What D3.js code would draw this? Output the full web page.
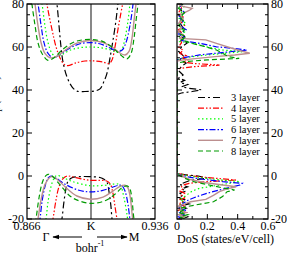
<!DOCTYPE html>
<html>
<head>
<meta charset="utf-8">
<script src="https://cdn.jsdelivr.net/npm/d3@7"></script>
<style>
  body { margin: 0; background: #fff; }
  text { font-family: "Liberation Serif", "DejaVu Serif", serif; fill: #000; }
</style>
</head>
<body>
<div id="chart"></div>
<script>
// layer names + styles for the legend
const layers = ["3 layer", "4 layer", "5 layer", "6 layer", "7 layer", "8 layer"];
const colors = ["#000000", "#ff0000", "#00ff00", "#0000ff", "#bc8f8f", "#009a00"];
const dashes = ["7,3,2,3", "6,2,1.5,2,1.5,2", "1.5,2.5", "6,2,1.5,2", null, "5,3"];

// band structure near K: [k (bohr^-1), E (meV)]  -- upper (conduction) bands
const upper3 = [[0.8818,84],[0.8824,80],[0.8835,70],[0.8846,60],[0.8857,53],[0.8879,46],[0.8906,41.5],[0.8933,39.5],[0.8977,39.3],[0.9032,39.6],[0.9059,40.5],[0.9081,44],[0.9098,48],[0.9114,55],[0.9130,63],[0.9146,72],[0.9157,80],[0.9163,84]];
const upper4 = [[0.8764,84],[0.8769,80],[0.8797,68],[0.8819,60],[0.8840,55],[0.8862,52],[0.8884,51.3],[0.8923,52.5],[0.8977,53.5],[0.9032,53.5],[0.9076,53],[0.9108,52.3],[0.9125,54],[0.9141,60],[0.9157,68],[0.9174,76],[0.9185,81],[0.9190,84]];
const upper5 = [[0.8731,84],[0.8742,80],[0.8758,70],[0.8775,62],[0.8797,57],[0.8819,55.5],[0.8851,56.5],[0.8895,58.5],[0.8950,59.7],[0.9005,60],[0.9059,59.7],[0.9103,59],[0.9136,58],[0.9157,57.5],[0.9179,59],[0.9196,64],[0.9212,72],[0.9223,80],[0.9229,84]];
const upper6 = [[0.8709,84],[0.8720,80],[0.8737,70],[0.8753,62],[0.8775,57],[0.8802,55],[0.8840,56.5],[0.8895,59.5],[0.8950,61.5],[0.9021,62],[0.9076,61],[0.9114,59.5],[0.9152,58],[0.9179,58.5],[0.9201,62],[0.9223,70],[0.9240,80],[0.9245,84]];
const upper7 = [[0.8698,84],[0.8704,80],[0.8720,70],[0.8737,62],[0.8758,57],[0.8786,55],[0.8819,55.5],[0.8868,58.5],[0.8933,61.8],[0.9005,63],[0.9076,62],[0.9125,60],[0.9163,57.5],[0.9196,56.3],[0.9218,58],[0.9234,64],[0.9245,72],[0.9256,80],[0.9262,84]];
const upper8 = [[0.8682,84],[0.8687,80],[0.8704,70],[0.8720,62],[0.8742,57],[0.8775,53.8],[0.8808,55],[0.8857,59],[0.8923,62.5],[0.9005,63.5],[0.9076,62.5],[0.9125,60],[0.9169,56.5],[0.9207,54.5],[0.9229,57],[0.9245,64],[0.9256,72],[0.9267,80],[0.9272,84]];

// lower (valence) bands
const lower3 = [[0.8846,-22],[0.8851,-20],[0.8862,-12],[0.8873,-6],[0.8884,-2.5],[0.8906,-0.8],[0.8950,-0.3],[0.9005,-0.3],[0.9059,-0.7],[0.9081,-1.5],[0.9098,-3],[0.9108,-7],[0.9119,-14],[0.9125,-20],[0.9130,-22]];
const lower4 = [[0.8797,-22],[0.8802,-20],[0.8819,-11],[0.8835,-5],[0.8857,-1.2],[0.8879,0],[0.8906,-0.3],[0.8950,-1.2],[0.9005,-2],[0.9059,-2],[0.9092,-2.2],[0.9114,-3.5],[0.9130,-8],[0.9141,-14],[0.9152,-20],[0.9157,-22]];
const lower5 = [[0.8758,-22],[0.8764,-20],[0.8775,-12],[0.8791,-5],[0.8808,-1],[0.8824,0.3],[0.8851,-0.5],[0.8906,-2.5],[0.9005,-4.5],[0.9087,-4.3],[0.9130,-3.8],[0.9157,-3.7],[0.9174,-5],[0.9190,-10],[0.9207,-18],[0.9212,-22]];
const lower6 = [[0.8726,-22],[0.8731,-20],[0.8742,-12],[0.8758,-5],[0.8775,-1],[0.8791,0],[0.8819,-1],[0.8868,-3.8],[0.8939,-6.5],[0.9005,-7.4],[0.9070,-6.8],[0.9125,-5.3],[0.9163,-4.3],[0.9179,-4.5],[0.9196,-7],[0.9212,-13],[0.9223,-20],[0.9229,-22]];
const lower7 = [[0.8715,-22],[0.8720,-20],[0.8737,-11],[0.8758,-4],[0.8780,-1],[0.8797,-0.3],[0.8824,-1.5],[0.8868,-5],[0.8933,-9.3],[0.9005,-10.8],[0.9076,-9.8],[0.9130,-7],[0.9169,-4.8],[0.9196,-4.3],[0.9212,-5.5],[0.9223,-9],[0.9234,-17],[0.9240,-22]];
const lower8 = [[0.8704,-22],[0.8709,-20],[0.8726,-10],[0.8742,-3.5],[0.8758,-0.3],[0.8775,0.8],[0.8797,0],[0.8840,-4],[0.8906,-10],[0.9005,-12.7],[0.9087,-11.5],[0.9141,-8.5],[0.9179,-5.5],[0.9207,-4.6],[0.9223,-6],[0.9234,-11],[0.9245,-20],[0.9251,-22]];

// density of states: [E (meV), DoS (states/eV/cell)]
const dos3 = [[-20,0.03],[-19,0.07],[-18,0.02],[-17,0.05],[-16,0.01],[-15,0.06],[-14,0.02],[-13,0.08],[-12,0.03],[-11,0.05],[-10,0.01],[-9,0.04],[-8,0.02],[-7,0.06],[-6,0.03],[-5,0.07],[-4,0.02],[-3,0.05],[-2,0.09],[-1,0.2],[0,0.14],[0.6,0.05],[1.2,0],[38,0],[38.6,0.03],[39.3,0.1],[40.1,0.16],[40.8,0.08],[41.5,0.03],[42.5,0.07],[43.5,0.02],[44.5,0.05],[45.5,0.01],[47,0.04],[49,0.01],[51,0.03],[52.5,0.06],[54,0.02],[56,0.04],[58,0.01],[60,0.03],[62,0.07],[63.5,0.02],[65,0.05],[67,0.01],[69,0.04],[71,0.02],[73,0.05],[75,0.01],[77,0.03],[79,0.02],[80,0.04]];
const dos4 = [[-20,0.01],[-19,0.04],[-18,0.02],[-17,0.06],[-16,0.01],[-15,0.03],[-14,0.05],[-13,0.01],[-12,0.04],[-11,0.02],[-10,0.06],[-9,0.03],[-8,0.05],[-7,0.02],[-6,0.04],[-5,0.03],[-4,0.05],[-3.4,0.08],[-2.6,0.2],[-1.9,0.39],[-1.1,0.26],[-0.3,0.14],[0.5,0.05],[1.2,0],[49,0],[50,0.02],[50.8,0.1],[51.6,0.28],[52.3,0.12],[53,0.04],[54,0.07],[55,0.03],[56,0.06],[57,0.02],[58.5,0.04],[60,0.01],[62,0.03],[64,0.02],[66,0.04],[68,0.01],[70,0.05],[72,0.02],[74,0.04],[76,0.01],[78,0.03],[80,0.02]];
const dos5 = [[-20,0.02],[-19,0.05],[-18,0.01],[-17,0.04],[-16,0.02],[-15,0.06],[-14,0.01],[-13,0.03],[-12,0.05],[-11,0.02],[-10,0.04],[-8.8,0.065],[-7,0.1],[-5.7,0.15],[-4.2,0.28],[-2.6,0.415],[-1.9,0.3],[-1,0.18],[0,0.08],[0.8,0.02],[1.3,0],[54,0],[54.7,0.03],[55.5,0.1],[56.3,0.2],[57.8,0.43],[58.6,0.3],[60.1,0.19],[61.7,0.11],[62.5,0.02],[63.5,0.04],[65,0.01],[67,0.05],[69,0.02],[71,0.06],[73,0.01],[75,0.04],[77,0.02],[79,0.05],[80,0.01]];
const dos6 = [[-20,0.04],[-19,0.01],[-18,0.05],[-17,0.02],[-16,0.06],[-15,0.01],[-14,0.03],[-12.7,0.04],[-11,0.08],[-9.6,0.13],[-8,0.2],[-6.5,0.28],[-4.2,0.415],[-3.4,0.43],[-2.6,0.3],[-1.5,0.17],[-0.5,0.08],[0.5,0.02],[1,0],[54,0],[55,0.04],[56.3,0.15],[57.8,0.35],[58.6,0.46],[59.3,0.38],[60.1,0.26],[61.7,0.15],[63,0.03],[64.5,0.05],[66,0.01],[68,0.06],[70,0.02],[72,0.04],[74,0.01],[76,0.05],[78,0.02],[80,0.03]];
const dos7 = [[-20,0.02],[-19,0.05],[-18,0.01],[-17,0.06],[-16,0.02],[-15,0.04],[-14,0.01],[-13,0.05],[-12,0.09],[-10.9,0.19],[-9,0.24],[-7.3,0.28],[-6,0.33],[-5,0.39],[-4.2,0.3],[-3,0.18],[-1.5,0.08],[0,0.03],[0.8,0],[53.5,0],[54,0.04],[55.5,0.25],[56.3,0.38],[57.1,0.48],[58.6,0.4],[60.1,0.33],[61.7,0.26],[63.3,0.19],[64,0.02],[65.5,0.04],[67,0.01],[69,0.03],[71,0.01],[73,0.04],[75,0.02],[77,0.08],[78,0.1],[79,0.03],[80,0.01]];
const dos8 = [[-20,0.05],[-19,0.02],[-18,0.07],[-17,0.01],[-16,0.04],[-15,0.02],[-14.3,0.06],[-13.5,0.12],[-12,0.24],[-9.6,0.3],[-7.3,0.33],[-6.5,0.38],[-5.5,0.3],[-4,0.2],[-2.5,0.1],[-1,0.05],[0.5,0.01],[1.2,0],[52.5,0],[53.2,0.05],[54,0.2],[54.7,0.41],[55.5,0.34],[57.1,0.3],[58.6,0.26],[60.1,0.19],[61.7,0.1],[63.3,0.03],[64.8,0.06],[66,0.02],[68,0.05],[70,0.01],[72,0.04],[74,0.02],[76,0.05],[78,0.01],[80,0.03]];

// tick labels
const yTicks = [80, 60, 40, 20, 0, -20];
const kTicks = [0.866, 0.901, 0.936];
const kLabels = ["0.866", "K", "0.936"];
const dosTicks = [0, 0.2, 0.4, 0.6];

const uppers = [upper3, upper4, upper5, upper6, upper7, upper8];
const lowers = [lower3, lower4, lower5, lower6, lower7, lower8];
const doses = [dos3, dos4, dos5, dos6, dos7, dos8];

const W = 287, H = 256;
const svg = d3.select('#chart').append('svg').attr('width', W).attr('height', H);
svg.append('rect').attr('width', W).attr('height', H).attr('fill', '#fff');

// panels (pixel boxes)
const band = { x0: 27, x1: 155, y0: 4, y1: 219 };
const dosP = { x0: 177, x1: 268, y0: 4, y1: 219 };

const yScale = d3.scaleLinear().domain([-20, 80]).range([band.y1, band.y0]);
const kScale = d3.scaleLinear().domain([0.866, 0.936]).range([band.x0, band.x1]);
const dScale = d3.scaleLinear().domain([0, 0.6]).range([dosP.x0, dosP.x1]);

// clip paths
const defs = svg.append('defs');
defs.append('clipPath').attr('id', 'clipB').append('rect')
  .attr('x', band.x0).attr('y', band.y0).attr('width', band.x1 - band.x0).attr('height', band.y1 - band.y0);
defs.append('clipPath').attr('id', 'clipD').append('rect')
  .attr('x', dosP.x0).attr('y', dosP.y0).attr('width', dosP.x1 - dosP.x0).attr('height', dosP.y1 - dosP.y0);

function styleLine(sel, i) {
  sel.attr('fill', 'none').attr('stroke', colors[i])
    .attr('stroke-width', i === 4 ? 1.4 : 1.2)
    .attr('stroke-dasharray', dashes[i]);
}

// ---- band panel ----
const gB = svg.append('g').attr('clip-path', 'url(#clipB)');
const bandLine = d3.line().x(d => kScale(d[0])).y(d => yScale(d[1])).curve(d3.curveCatmullRom.alpha(0.5));
// K line
gB.append('line').attr('x1', kScale(0.901)).attr('x2', kScale(0.901))
  .attr('y1', band.y0).attr('y2', band.y1).attr('stroke', '#6a6a6a').attr('stroke-width', 1.6);
layers.forEach((l, i) => {
  gB.append('path').attr('d', bandLine(uppers[i])).call(styleLine, i);
  gB.append('path').attr('d', bandLine(lowers[i])).call(styleLine, i);
});

// ---- DoS panel ----
const gD = svg.append('g').attr('clip-path', 'url(#clipD)');
const dosLine = d3.line().x(d => dScale(d[1])).y(d => yScale(d[0]));
layers.forEach((l, i) => {
  gD.append('path').attr('d', dosLine(doses[i])).call(styleLine, i);
});

// ---- axes ----
const minorY = d3.range(-20, 81, 5);
function yTicksFor(x, dir) {
  // dir +1 = ticks point right, -1 = left
  const g = svg.append('g');
  g.selectAll('line').data(minorY).enter().append('line')
    .attr('x1', x).attr('x2', d => x + dir * (d % 20 === 0 ? 5 : 3))
    .attr('y1', d => yScale(d)).attr('y2', d => yScale(d))
    .attr('stroke', '#000').attr('stroke-width', 1);
}
yTicksFor(band.x0, 1);
yTicksFor(band.x1, -1);
yTicksFor(dosP.x0, 1);
yTicksFor(dosP.x1, -1);

// DoS x ticks (top and bottom, inward); every 0.2 is a major tick
const minorD = [0.1, 0.2, 0.3, 0.4, 0.5];
const isMajor = d => Math.round(d * 10) % 2 === 0;
svg.append('g').selectAll('line').data(minorD).enter().append('line')
  .attr('x1', d => dScale(d)).attr('x2', d => dScale(d))
  .attr('y1', dosP.y1).attr('y2', d => dosP.y1 - (isMajor(d) ? 5 : 3))
  .attr('stroke', '#000');
svg.append('g').selectAll('line').data(minorD).enter().append('line')
  .attr('x1', d => dScale(d)).attr('x2', d => dScale(d))
  .attr('y1', dosP.y0).attr('y2', d => dosP.y0 + (isMajor(d) ? 5 : 3))
  .attr('stroke', '#000');

// frames
[band, dosP].forEach(p => {
  svg.append('rect').attr('x', p.x0).attr('y', p.y0)
    .attr('width', p.x1 - p.x0).attr('height', p.y1 - p.y0)
    .attr('fill', 'none').attr('stroke', '#000').attr('stroke-width', 1.2);
});

// tick labels
svg.append('g').selectAll('text').data(yTicks).enter().append('text')
  .attr('x', band.x0 - 3).attr('y', d => yScale(d) + 4)
  .attr('text-anchor', 'end').attr('font-size', 12).text(d => d < 0 ? '-' + Math.abs(d) : d);
svg.append('g').selectAll('text').data(yTicks).enter().append('text')
  .attr('x', dosP.x1 + 3).attr('y', d => yScale(d) + 4)
  .attr('text-anchor', 'start').attr('font-size', 12).text(d => d < 0 ? '-' + Math.abs(d) : d);
svg.append('g').selectAll('text').data(kTicks).enter().append('text')
  .attr('x', d => kScale(d)).attr('y', 230)
  .attr('text-anchor', 'middle').attr('font-size', 12).text((d, i) => kLabels[i]);
svg.append('g').selectAll('text').data(dosTicks).enter().append('text')
  .attr('x', d => dScale(d)).attr('y', 230)
  .attr('text-anchor', 'middle').attr('font-size', 12).text(d => d);

// y axis title (mostly cut off at the left edge)
const yt = svg.append('text').attr('transform', 'translate(-1,105) rotate(-90)')
  .attr('text-anchor', 'middle').attr('font-size', 11);
yt.append('tspan').text('E - E');
yt.append('tspan').attr('dy', 3).attr('font-size', 8).text('F');
yt.append('tspan').attr('dy', -3).text(' (meV)');

// Gamma <-- --> M annotation
defs.append('marker').attr('id', 'arr').attr('viewBox', '0 0 10 10').attr('refX', 9).attr('refY', 5)
  .attr('markerWidth', 7).attr('markerHeight', 7).attr('orient', 'auto-start-reverse')
  .append('path').attr('d', 'M0,1.5 L10,5 L0,8.5 Z').attr('fill', '#000');
svg.append('line').attr('x1', 82).attr('x2', 53).attr('y1', 237).attr('y2', 237)
  .attr('stroke', '#000').attr('stroke-width', 1).attr('marker-end', 'url(#arr)');
svg.append('line').attr('x1', 97).attr('x2', 127).attr('y1', 237).attr('y2', 237)
  .attr('stroke', '#000').attr('stroke-width', 1).attr('marker-end', 'url(#arr)');
svg.append('text').attr('x', 46).attr('y', 241).attr('text-anchor', 'middle').attr('font-size', 12).text('Γ');
svg.append('text').attr('x', 134).attr('y', 241).attr('text-anchor', 'middle').attr('font-size', 12).text('M');
const bt = svg.append('text').attr('x', 90).attr('y', 252).attr('text-anchor', 'middle').attr('font-size', 12);
bt.append('tspan').text('bohr');
bt.append('tspan').attr('dy', -6).attr('font-size', 8).text('-1');

svg.append('text').attr('x', (dosP.x0 + dosP.x1) / 2 + 3).attr('y', 243)
  .attr('text-anchor', 'middle').attr('font-size', 12).text('DoS (states/eV/cell)');

// legend
const leg = svg.append('g');
layers.forEach((l, i) => {
  const y = 97.5 + i * 10.7;
  leg.append('line').attr('x1', 198).attr('x2', 223).attr('y1', y).attr('y2', y).call(styleLine, i);
  leg.append('text').attr('x', 231).attr('y', y + 3.5).attr('font-size', 10.5).text(l);
});
</script>
</body>
</html>
